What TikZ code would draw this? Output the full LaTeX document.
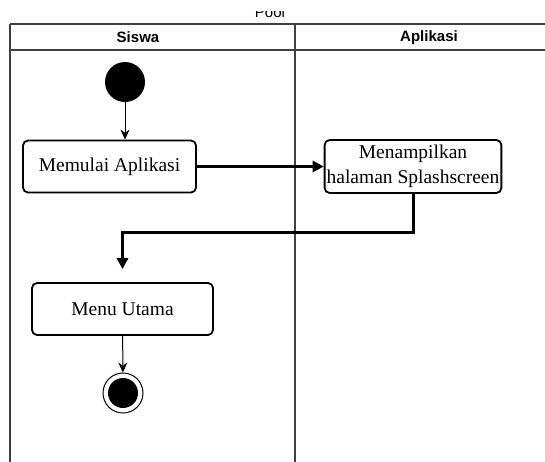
\documentclass[tikz,border=0pt]{standalone}
\usepackage{fontspec}
\setmainfont{Liberation Serif}
\setsansfont{Liberation Sans}
\usetikzlibrary{arrows.meta}

\tikzset{
    lane/.style={draw=black!75, line width=2.5pt},
    act/.style={rectangle, rounded corners=5pt, draw, line width=1.8pt, align=center,
        font=\fontsize{19.5}{25}\selectfont, inner sep=2pt},
    lanetitle/.style={font=\fontsize{15}{18}\selectfont\sffamily\bfseries},
    thinflow/.style={line width=1pt, -{Stealth[length=10pt,width=9pt]}},
    flow/.style={line width=3pt, -{Triangle[length=11pt,width=11pt]}}
}

\begin{document}
\begin{tikzpicture}[x=1pt, y=-1pt]
    \useasboundingbox (0,0) rectangle (545,461);

    % Draw pool (title cut at the top) and lanes
    \begin{scope}
        \clip (200,11) rectangle (340,24);
        \node (pool) at (270,12) [font=\fontsize{15}{18}\selectfont\sffamily] {Pool};
    \end{scope}
    \draw[lane] (10,24) -- (560,24);
    \draw[lane] (10,50) -- (560,50);
    \draw[lane] (10,24) -- (10,470);
    \draw[lane] (295,24) -- (295,470);
    \node (siswa) at (138,37.5) [lanetitle] {Siswa};
    \node (aplikasi) at (429,37.5) [lanetitle] {Aplikasi};

    % Draw activities
    \node (start) at (125,82) [circle, fill=black, minimum size=40pt, inner sep=0pt] {};
    \node (mulai) at (109.5,166.5) [act, minimum width=173pt, minimum height=52pt] {Memulai Aplikasi};
    \node (splash) at (413,166.5) [act, minimum width=174pt, minimum height=53pt] {Menampilkan\\halaman Splashscreen};
    \node (menu) at (122.5,309) [act, minimum width=181pt, minimum height=52pt] {Menu Utama};
    \node (finish) at (123,393) [circle, draw, line width=1pt, minimum size=40pt, inner sep=0pt] {};
    \node (finishdot) at (finish) [circle, fill=black, minimum size=30pt, inner sep=0pt] {};

    % Draw transitions
    \draw[thinflow] (start) -- (start |- mulai.north);
    \draw[flow] (mulai.east) -- (splash.west);
    \draw[flow, shorten >=13pt] (splash.south) -- ++(0,39) -| (menu.north);
    \draw[thinflow] (menu) -- (finish);

\end{tikzpicture}
\end{document}
